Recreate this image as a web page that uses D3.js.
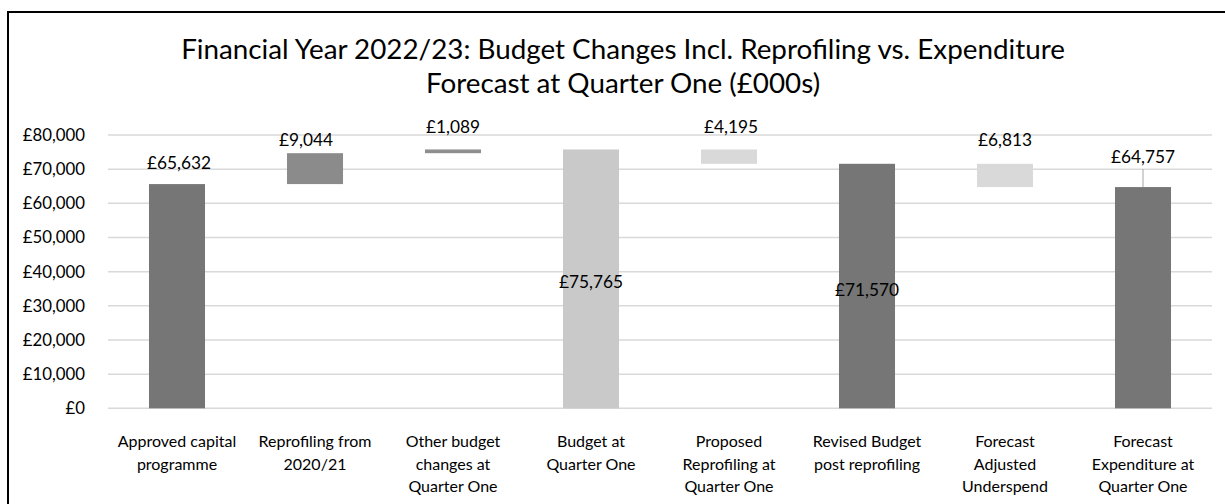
<!DOCTYPE html>
<html>
<head>
<meta charset="utf-8">
<script src="https://cdn.jsdelivr.net/npm/d3@7"></script>
<style>
  html, body { margin: 0; padding: 0; background: #fff; }
  svg { display: block; font-family: Lato, "Open Sans", sans-serif; }
</style>
</head>
<body>
<svg id="chart" width="1225" height="504"></svg>
<script>
// ---- data ----
const categories = [
  ["Approved capital", "programme"],
  ["Reprofiling from", "2020/21"],
  ["Other budget", "changes at", "Quarter One"],
  ["Budget at", "Quarter One"],
  ["Proposed", "Reprofiling at", "Quarter One"],
  ["Revised Budget", "post reprofiling"],
  ["Forecast", "Adjusted", "Underspend"],
  ["Forecast", "Expenditure at", "Quarter One"]
];
const values   = [65632, 9044, 1089, 75765, -4195, 71570, -6813, 64757];
const barType  = ["total", "increase", "increase", "total", "decrease", "total", "decrease", "total"];
const yTicks   = [0, 10000, 20000, 30000, 40000, 50000, 60000, 70000, 80000];
const titleLines = [
  "Financial Year 2022/23: Budget Changes Incl. Reprofiling vs. Expenditure",
  "Forecast at Quarter One (£000s)"
];

// ---- style / layout ----
const fills = ["#767676", "#8b8b8b", "#8e8e8e", "#c9c9c9", "#d9d9d9", "#767676", "#d9d9d9", "#767676"];
const labelPos = ["above", "above", "above", "inside", "above", "inside", "above", "leader"];
const labelDx  = [2, -9, 0, 0, 2, 0, 0, 0];
const labelGap = [22, 14, 23, 0, 23, 0, 24, 31];

const svg = d3.select("#chart");
const plot = { left: 108, right: 1212, top: 135, bottom: 408.3 };

// frame
svg.append("path")
  .attr("d", "M8,1000 L8,12 L1300,12")
  .attr("fill", "none").attr("stroke", "#000").attr("stroke-width", 2);

const x = d3.scaleBand()
  .domain(d3.range(categories.length))
  .range([plot.left, plot.right])
  .paddingInner(0.594).paddingOuter(0.297);

const y = d3.scaleLinear().domain([0, 80000]).range([plot.bottom, plot.top]);

// title
svg.append("text")
  .attr("x", 623).attr("y", 59)
  .attr("text-anchor", "middle")
  .attr("font-size", 27.8).attr("fill", "#000")
  .selectAll("tspan").data(titleLines).join("tspan")
  .attr("x", 623).attr("dy", (d, i) => i === 0 ? 0 : 34)
  .text(d => d);

// gridlines
svg.append("g").selectAll("line").data(yTicks).join("line")
  .attr("x1", plot.left).attr("x2", plot.right)
  .attr("y1", d => y(d)).attr("y2", d => y(d))
  .attr("stroke", "#d9d9d9").attr("stroke-width", 1.5);

// y axis labels
const yAxis = d3.axisLeft(y).tickValues(yTicks)
  .tickFormat(d => "£" + d3.format(",")(d)).tickSize(0).tickPadding(23);
const yg = svg.append("g").attr("transform", `translate(${plot.left},0)`).call(yAxis);
yg.select(".domain").remove();
yg.selectAll("text").attr("font-size", 16.8).attr("fill", "#000")
  .attr("font-family", "Lato, sans-serif");

// waterfall geometry
let running = 0;
const bars = values.map((v, i) => {
  let lo, hi;
  if (barType[i] === "total") { lo = 0; hi = v; running = v; }
  else { const start = running; running = start + v; lo = Math.min(start, running); hi = Math.max(start, running); }
  return { i, v, lo, hi };
});

svg.append("g").selectAll("rect").data(bars).join("rect")
  .attr("x", d => x(d.i))
  .attr("width", x.bandwidth())
  .attr("y", d => y(d.hi))
  .attr("height", d => y(d.lo) - y(d.hi))
  .attr("fill", d => fills[d.i]);

// data labels
const fmt = v => "£" + d3.format(",")(Math.abs(v));
const lg = svg.append("g").attr("font-size", 17.3).attr("fill", "#000");
bars.forEach(d => {
  const cx = x(d.i) + x.bandwidth() / 2 + labelDx[d.i];
  let cy;
  if (labelPos[d.i] === "inside") cy = (y(d.lo) + y(d.hi)) / 2 + 3;
  else cy = y(d.hi) - labelGap[d.i];
  if (labelPos[d.i] === "leader") {
    lg.append("line")
      .attr("x1", cx).attr("x2", cx)
      .attr("y1", cy + 13).attr("y2", y(d.hi))
      .attr("stroke", "#a6a6a6").attr("stroke-width", 1);
  }
  lg.append("text")
    .attr("x", cx).attr("y", cy)
    .attr("text-anchor", "middle").attr("dominant-baseline", "central")
    .text(fmt(d.v));
});

// category labels
const cg = svg.append("g").attr("font-size", 16).attr("fill", "#000");
categories.forEach((lines, i) => {
  const t = cg.append("text")
    .attr("text-anchor", "middle")
    .attr("x", x(i) + x.bandwidth() / 2)
    .attr("y", 447);
  lines.forEach((ln, j) => {
    t.append("tspan").attr("x", x(i) + x.bandwidth() / 2)
      .attr("dy", j === 0 ? 0 : 22.5).text(ln);
  });
});
</script>
</body>
</html>
